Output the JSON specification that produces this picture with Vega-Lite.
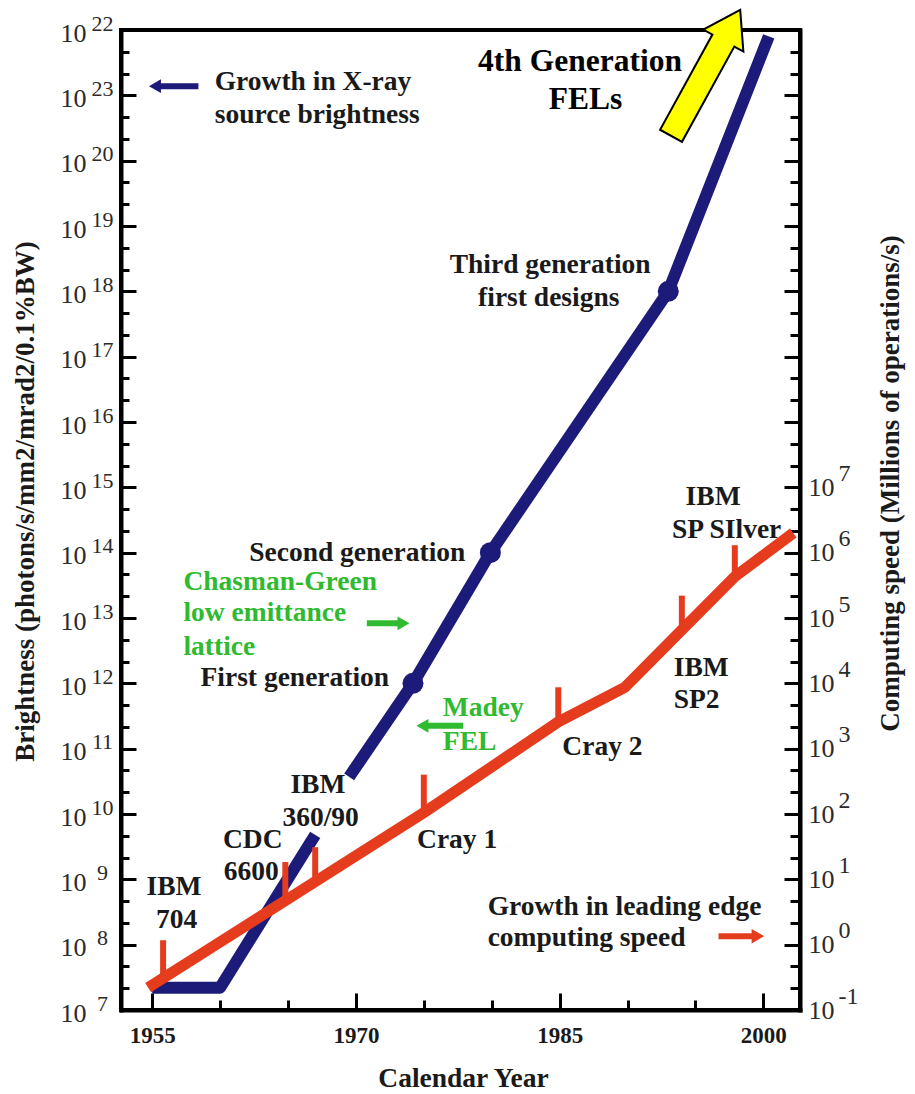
{
  "$schema": "https://vega.github.io/schema/vega-lite/v6.json",
  "width": 679,
  "height": 980,
  "autosize": "none",
  "padding": {"left": 121, "top": 30, "right": 115, "bottom": 84},
  "background": "white",
  "config": {
    "view": {"stroke": "#000", "strokeWidth": 4},
    "font": "Liberation Serif",
    "axis": {
      "labelFont": "Liberation Serif",
      "titleFont": "Liberation Serif",
      "domainColor": "#000",
      "domainWidth": 4,
      "domainCap": "square",
      "tickColor": "#000",
      "tickWidth": 3,
      "grid": false,
      "labelFlush": false,
      "labelBound": false,
      "labelOverlap": false,
      "labelColor": "#2a2a2a",
      "titleColor": "#1a1a1a"
    }
  },
  "datasets": {
    "xray": [
      {"year": 1955, "brightness": 2.2e7, "segment": "early"},
      {"year": 1960, "brightness": 2.2e7, "segment": "early"},
      {"year": 1967, "brightness": 4.8e9, "segment": "early"},
      {"year": 1969.5, "brightness": 3.7e10, "segment": "storage ring"},
      {"year": 1974.2, "brightness": 1e12, "segment": "storage ring"},
      {"year": 1979.9, "brightness": 1e14, "segment": "storage ring"},
      {"year": 1993, "brightness": 1e18, "segment": "storage ring"},
      {"year": 2000.4, "brightness": 8e21, "segment": "storage ring"}
    ],
    "generations": [
      {"generation": "First", "year": 1974.2, "brightness": 1e12},
      {"generation": "Second", "year": 1979.9, "brightness": 1e14},
      {"generation": "Third", "year": 1993, "brightness": 1e18}
    ],
    "computing": [
      {"year": 1954.7, "speed": 0.22},
      {"year": 1975, "speed": 105},
      {"year": 1984.9, "speed": 2570},
      {"year": 1989.8, "speed": 8700},
      {"year": 1994, "speed": 66000},
      {"year": 1997.9, "speed": 430000},
      {"year": 2002.2, "speed": 2000000}
    ],
    "machines": [
      {"machine": "IBM 704", "year": 1955.8, "speed": 0.31, "tick_top": 1.17},
      {"machine": "CDC 6600", "year": 1964.8, "speed": 4.8, "tick_top": 18.4},
      {"machine": "IBM 360/90", "year": 1967.0, "speed": 9.3, "tick_top": 31},
      {"machine": "Cray 1", "year": 1975.0, "speed": 105, "tick_top": 400},
      {"machine": "Cray 2", "year": 1984.9, "speed": 2570, "tick_top": 8700},
      {"machine": "IBM SP2", "year": 1994.0, "speed": 66000, "tick_top": 220000},
      {"machine": "IBM SP Silver", "year": 1997.9, "speed": 430000, "tick_top": 1300000}
    ],
    "computing_pointer": [
      {"tail": 1996.7, "head": 1999.6, "speed": 1.35}
    ],
    "pointers": [
      {"tail": 1958.4, "head": 1955.2, "brightness": 1.38e21, "series": "xray", "direction": "left"},
      {"tail": 1970.8, "head": 1973.5, "brightness": 8.3e12, "series": "chasman-green", "direction": "right"},
      {"tail": 1977.9, "head": 1974.9, "brightness": 2.24e11, "series": "madey", "direction": "left"}
    ],
    "headline": [
      {"text": "4th Generation", "year": 1986.5, "brightness": 3.24e21},
      {"text": "FELs", "year": 1986.9, "brightness": 8.5e20}
    ],
    "notes_centered": [
      {"text": "Third generation", "year": 1984.3, "brightness": 2.5e18, "kind": "label"},
      {"text": "first designs", "year": 1984.2, "brightness": 7.9e17, "kind": "label"},
      {"text": "Second generation", "year": 1970.1, "brightness": 1.0e14, "kind": "label"},
      {"text": "First generation", "year": 1965.5, "brightness": 1.2e12, "kind": "label"},
      {"text": "IBM", "year": 1967.2, "brightness": 2.75e10, "kind": "label"},
      {"text": "360/90", "year": 1967.4, "brightness": 8.7e9, "kind": "label"},
      {"text": "CDC", "year": 1962.4, "brightness": 4.0e9, "kind": "label"},
      {"text": "6600", "year": 1962.3, "brightness": 1.29e9, "kind": "label"},
      {"text": "IBM", "year": 1956.6, "brightness": 7.6e8, "kind": "label"},
      {"text": "704", "year": 1956.8, "brightness": 2.4e8, "kind": "label"},
      {"text": "IBM", "year": 1996.3, "brightness": 7.1e14, "kind": "label"},
      {"text": "SP SIlver", "year": 1997.3, "brightness": 2.24e14, "kind": "label"}
    ],
    "notes_left": [
      {"text": "Growth in X-ray", "year": 1959.6, "brightness": 1.58e21, "kind": "label"},
      {"text": "source brightness", "year": 1959.6, "brightness": 5.0e20, "kind": "label"},
      {"text": "Chasman-Green", "year": 1957.3, "brightness": 3.55e13, "kind": "highlight"},
      {"text": "low emittance", "year": 1957.3, "brightness": 1.2e13, "kind": "highlight"},
      {"text": "lattice", "year": 1957.3, "brightness": 3.6e12, "kind": "highlight"},
      {"text": "Madey", "year": 1976.4, "brightness": 4.2e11, "kind": "highlight"},
      {"text": "FEL", "year": 1976.4, "brightness": 1.26e11, "kind": "highlight"},
      {"text": "Cray 1", "year": 1974.5, "brightness": 4.0e9, "kind": "label"},
      {"text": "Cray 2", "year": 1985.2, "brightness": 1.07e11, "kind": "label"},
      {"text": "IBM", "year": 1993.4, "brightness": 1.7e12, "kind": "label"},
      {"text": "SP2", "year": 1993.4, "brightness": 5.6e11, "kind": "label"},
      {"text": "Growth in leading edge", "year": 1979.7, "brightness": 3.8e8, "kind": "label"},
      {"text": "computing speed", "year": 1979.7, "brightness": 1.26e8, "kind": "label"}
    ],
    "fel_arrow": [
      {"label": "4th Generation FELs", "year": 1995.75, "brightness": 2.21e21}
    ]
  },
  "layer": [
    {
      "data": {"name": "xray"},
      "mark": {"type": "line", "color": "#1d1b7a", "strokeWidth": 12, "strokeCap": "butt", "strokeJoin": "round"},
      "encoding": {
        "x": {
          "field": "year", "type": "quantitative",
          "scale": {"domain": [1952.7, 2002.7], "nice": false, "zero": false},
          "axis": {
            "orient": "bottom", "values": [1955, 1970, 1985, 2000], "format": "d",
            "tickSize": -17, "labelFontWeight": "bold", "labelFontSize": 23, "labelColor": "#1a1a1a",
            "labelPadding": 31, "labelBaseline": "top",
            "title": "Calendar Year", "titleFontSize": 27.5, "titleFontWeight": "bold",
            "titleX": 342, "titleY": 76, "titleAlign": "center", "titleBaseline": "alphabetic"
          }
        },
        "y": {
          "field": "brightness", "type": "quantitative",
          "scale": {"type": "log", "domain": [1e7, 1e22], "nice": false},
          "axis": {
            "orient": "left",
            "values": [1e7, 1e8, 1e9, 1e10, 1e11, 1e12, 1e13, 1e14, 1e15, 1e16, 1e17, 1e18, 1e19, 1e20, 1e21, 1e22],
            "tickSize": -15, "labelExpr": "'10'", "labelFontSize": 26, "labelAlign": "right",
            "labelBaseline": "middle", "labelPadding": 50, "labelOffset": 3,
            "title": "Brightness (photons/s/mm2/mrad2/0.1%BW)", "titleFontSize": 27, "titleFontWeight": "bold",
            "titleAngle": 270, "titleX": -96, "titleY": 471, "titleAlign": "center", "titleBaseline": "middle"
          }
        },
        "detail": {"field": "segment"}
      }
    },
    {
      "data": {"name": "generations"},
      "mark": {"type": "point", "filled": true, "opacity": 1, "color": "#1d1b7a", "size": 440},
      "encoding": {
        "x": {
          "field": "year", "type": "quantitative",
          "scale": {"domain": [1952.7, 2002.7], "nice": false, "zero": false},
          "axis": {
            "orient": "bottom", "values": [1960, 1965, 1975, 1980, 1990, 1995],
            "tickSize": -10, "labels": false, "domain": false, "title": null
          }
        },
        "y": {
          "field": "brightness", "type": "quantitative",
          "scale": {"type": "log", "domain": [1e7, 1e22], "nice": false},
          "axis": {
            "orient": "left",
            "values": [1e7, 1e8, 1e9, 1e10, 1e11, 1e12, 1e13, 1e14, 1e15, 1e16, 1e17, 1e18, 1e19, 1e20, 1e21, 1e22],
            "ticks": false, "tickSize": 0, "domain": false,
            "labelExpr": "datum.value > 5e20 && datum.value < 5e21 ? '23' : toString(round(log(datum.value) / LN10))",
            "labelFontSize": 22, "labelAlign": "center", "labelBaseline": "middle",
            "labelPadding": 19, "labelOffset": -7, "title": null
          }
        }
      }
    },
    {
      "data": {"name": "computing"},
      "mark": {"type": "line", "color": "#e63c1e", "strokeWidth": 11, "strokeCap": "butt", "strokeJoin": "round"},
      "encoding": {
        "x": {"field": "year", "type": "quantitative", "scale": {"domain": [1952.7, 2002.7], "nice": false, "zero": false}, "axis": null},
        "y": {
          "field": "speed", "type": "quantitative",
          "scale": {"type": "log", "domain": [0.1, 1e14], "nice": false},
          "axis": {
            "orient": "right",
            "values": [0.1, 1, 10, 100, 1000, 1e4, 1e5, 1e6, 1e7, 1e8, 1e9, 1e10, 1e11, 1e12, 1e13],
            "tickSize": -16, "labelExpr": "datum.value <= 2e7 ? '10' : ''", "labelFontSize": 26,
            "labelAlign": "left", "labelBaseline": "middle", "labelPadding": 24, "labelOffset": 0,
            "title": "Computing speed (Millions of operations/s)", "titleFontSize": 27, "titleFontWeight": "bold",
            "titleAngle": 270, "titleX": 90, "titleY": 453, "titleAlign": "center", "titleBaseline": "middle"
          }
        }
      }
    },
    {
      "data": {"name": "machines"},
      "mark": {"type": "rule", "color": "#e63c1e", "strokeWidth": 6, "strokeCap": "butt"},
      "encoding": {
        "x": {"field": "year", "type": "quantitative", "scale": {"domain": [1952.7, 2002.7], "nice": false, "zero": false}, "axis": null},
        "y": {
          "field": "speed", "type": "quantitative",
          "scale": {"type": "log", "domain": [0.1, 1e14], "nice": false},
          "axis": {
            "orient": "right",
            "values": [0.1, 1, 10, 100, 1000, 1e4, 1e5, 1e6, 1e7],
            "ticks": false, "tickSize": 0, "domain": false,
            "labelExpr": "toString(round(log(datum.value) / LN10))",
            "labelFontSize": 24, "labelAlign": "left", "labelBaseline": "middle",
            "labelPadding": 38, "labelOffset": -14, "title": null
          }
        },
        "y2": {"field": "tick_top"}
      }
    },
    {
      "data": {"name": "computing_pointer"},
      "mark": {"type": "rule", "color": "#e63c1e", "strokeWidth": 6, "strokeCap": "butt"},
      "encoding": {
        "x": {"field": "tail", "type": "quantitative", "scale": {"domain": [1952.7, 2002.7], "nice": false, "zero": false}, "axis": null},
        "x2": {"field": "head"},
        "y": {
          "field": "speed", "type": "quantitative",
          "scale": {"type": "log", "domain": [0.1, 1e14], "nice": false},
          "axis": {
            "orient": "right",
            "values": [0.21544, 0.46416, 2.1544, 4.6416, 21.544, 46.416, 215.44, 464.16, 2154.4, 4641.6, 21544, 46416, 215440, 464160, 2.1544e6, 4.6416e6, 2.1544e7, 4.6416e7, 2.1544e8, 4.6416e8, 2.1544e9, 4.6416e9, 2.1544e10, 4.6416e10, 2.1544e11, 4.6416e11, 2.1544e12, 4.6416e12, 2.1544e13, 4.6416e13],
            "tickSize": -10, "labels": false, "domain": false, "title": null
          }
        }
      }
    },
    {
      "data": {"name": "computing_pointer"},
      "mark": {"type": "point", "shape": "triangle-right", "filled": true, "opacity": 1, "color": "#e63c1e", "size": 210},
      "encoding": {
        "x": {"field": "head", "type": "quantitative", "scale": {"domain": [1952.7, 2002.7], "nice": false, "zero": false}, "axis": null},
        "y": {"field": "speed", "type": "quantitative", "scale": {"type": "log", "domain": [0.1, 1e14], "nice": false}, "axis": null}
      }
    },
    {
      "data": {"name": "pointers"},
      "mark": {"type": "rule", "strokeWidth": 6, "strokeCap": "butt"},
      "encoding": {
        "x": {"field": "tail", "type": "quantitative", "scale": {"domain": [1952.7, 2002.7], "nice": false, "zero": false}, "axis": null},
        "x2": {"field": "head"},
        "y": {
          "field": "brightness", "type": "quantitative",
          "scale": {"type": "log", "domain": [1e7, 1e22], "nice": false},
          "axis": {
            "orient": "left",
            "values": [2.1544e7, 4.6416e7, 2.1544e8, 4.6416e8, 2.1544e9, 4.6416e9, 2.1544e10, 4.6416e10, 2.1544e11, 4.6416e11, 2.1544e12, 4.6416e12, 2.1544e13, 4.6416e13, 2.1544e14, 4.6416e14, 2.1544e15, 4.6416e15, 2.1544e16, 4.6416e16, 2.1544e17, 4.6416e17, 2.1544e18, 4.6416e18, 2.1544e19, 4.6416e19, 2.1544e20, 4.6416e20, 2.1544e21, 4.6416e21],
            "tickSize": -8, "labels": false, "domain": false, "title": null
          }
        },
        "color": {
          "field": "series", "type": "nominal", "legend": null,
          "scale": {"domain": ["xray", "chasman-green", "madey"], "range": ["#1d1b7a", "#2fba2f", "#2fba2f"]}
        }
      }
    },
    {
      "data": {"name": "pointers"},
      "mark": {"type": "point", "filled": true, "opacity": 1, "size": 190},
      "encoding": {
        "x": {"field": "head", "type": "quantitative", "scale": {"domain": [1952.7, 2002.7], "nice": false, "zero": false}, "axis": null},
        "y": {"field": "brightness", "type": "quantitative", "scale": {"type": "log", "domain": [1e7, 1e22], "nice": false}, "axis": null},
        "shape": {
          "field": "direction", "type": "nominal", "legend": null,
          "scale": {"domain": ["left", "right"], "range": ["triangle-left", "triangle-right"]}
        },
        "color": {
          "field": "series", "type": "nominal", "legend": null,
          "scale": {"domain": ["xray", "chasman-green", "madey"], "range": ["#1d1b7a", "#2fba2f", "#2fba2f"]}
        }
      }
    },
    {
      "data": {"name": "headline"},
      "mark": {"type": "text", "align": "center", "baseline": "middle", "font": "Liberation Serif", "fontWeight": "bold", "fontSize": 31.5, "color": "#000000"},
      "encoding": {
        "x": {"field": "year", "type": "quantitative", "scale": {"domain": [1952.7, 2002.7], "nice": false, "zero": false}, "axis": null},
        "y": {"field": "brightness", "type": "quantitative", "scale": {"type": "log", "domain": [1e7, 1e22], "nice": false}, "axis": null},
        "text": {"field": "text"}
      }
    },
    {
      "data": {"name": "notes_centered"},
      "mark": {"type": "text", "align": "center", "baseline": "middle", "font": "Liberation Serif", "fontWeight": "bold", "fontSize": 27.5},
      "encoding": {
        "x": {"field": "year", "type": "quantitative", "scale": {"domain": [1952.7, 2002.7], "nice": false, "zero": false}, "axis": null},
        "y": {"field": "brightness", "type": "quantitative", "scale": {"type": "log", "domain": [1e7, 1e22], "nice": false}, "axis": null},
        "text": {"field": "text"},
        "color": {
          "field": "kind", "type": "nominal", "legend": null,
          "scale": {"domain": ["label", "highlight"], "range": ["#1a1a1a", "#2fba2f"]}
        }
      }
    },
    {
      "data": {"name": "notes_left"},
      "mark": {"type": "text", "align": "left", "baseline": "middle", "font": "Liberation Serif", "fontWeight": "bold", "fontSize": 27.5},
      "encoding": {
        "x": {"field": "year", "type": "quantitative", "scale": {"domain": [1952.7, 2002.7], "nice": false, "zero": false}, "axis": null},
        "y": {"field": "brightness", "type": "quantitative", "scale": {"type": "log", "domain": [1e7, 1e22], "nice": false}, "axis": null},
        "text": {"field": "text"},
        "color": {
          "field": "kind", "type": "nominal", "legend": null,
          "scale": {"domain": ["label", "highlight"], "range": ["#1a1a1a", "#2fba2f"]}
        }
      }
    },
    {
      "data": {"name": "fel_arrow"},
      "mark": {
        "type": "point",
        "shape": "M0,-1L0.318,-0.513L0.174,-0.513L0.174,1L-0.174,1L-0.174,-0.513L-0.318,-0.513Z",
        "size": 20621,
        "angle": 28.8,
        "filled": true,
        "opacity": 1,
        "fill": "#ffff00",
        "stroke": "#000000",
        "strokeWidth": 2
      },
      "encoding": {
        "x": {"field": "year", "type": "quantitative", "scale": {"domain": [1952.7, 2002.7], "nice": false, "zero": false}, "axis": null},
        "y": {"field": "brightness", "type": "quantitative", "scale": {"type": "log", "domain": [1e7, 1e22], "nice": false}, "axis": null}
      }
    }
  ],
  "resolve": {
    "scale": {"y": "independent", "color": "independent", "shape": "independent"},
    "axis": {"x": "independent", "y": "independent"}
  }
}
